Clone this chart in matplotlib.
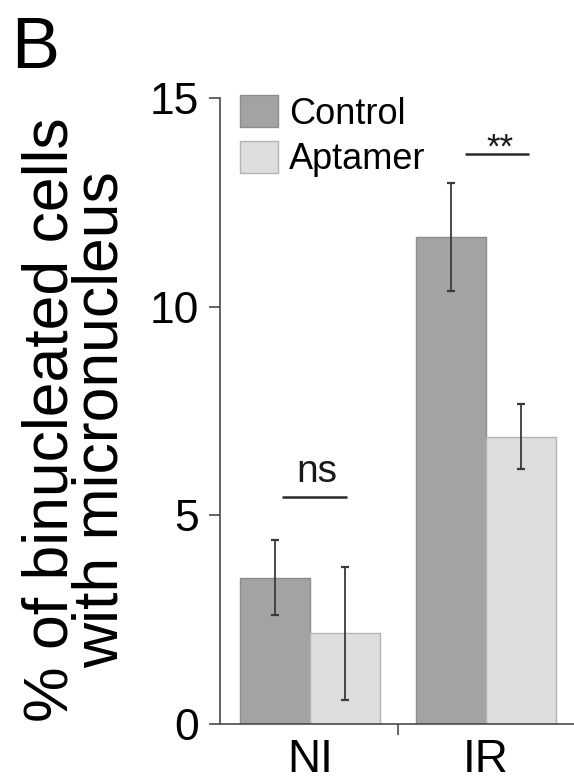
import matplotlib
matplotlib.use("Agg")
import matplotlib.pyplot as plt
from matplotlib.patches import Patch
import numpy as np

plt.rcParams['font.family'] = ['Liberation Sans', 'DejaVu Sans']

# ---- data ----
groups = ["NI", "IR"]
series = ["Control", "Aptamer"]
control_mean = [3.5, 11.68]
control_err_low = [2.6, 10.37]
control_err_high = [4.41, 12.97]
aptamer_mean = [2.18, 6.88]
aptamer_err_low = [0.58, 6.11]
aptamer_err_high = [3.76, 7.67]
sig_labels = ["ns", "**"]
yticks = [0, 5, 10, 15]
ylabel = "% of binucleated cells\nwith micronucleus"

# ---- style ----
W, H = 574, 784
fig = plt.figure(figsize=(W / 100, H / 100), dpi=100)

ax_left, ax_right = 220, 574
ax_bottom, ax_top = 724, 98
ax = fig.add_axes([ax_left / W, 1 - ax_bottom / H,
                   (ax_right - ax_left) / W, (ax_bottom - ax_top) / H])

x = np.arange(len(groups))
bw = 0.40
c_ctrl = "#a3a3a3"
c_apt = "#dcdddc"
e_ctrl = "#8c8c8c"
e_apt = "#b4b4b4"
err_col = "#3a3a3a"
axis_col = "#4a4a4a"

cm = np.array(control_mean)
am = np.array(aptamer_mean)
c_err = [cm - np.array(control_err_low), np.array(control_err_high) - cm]
a_err = [am - np.array(aptamer_err_low), np.array(aptamer_err_high) - am]

ax.bar(x - bw / 2, cm, bw, color=c_ctrl, edgecolor=e_ctrl, linewidth=1.0, zorder=2)
ax.bar(x + bw / 2, am, bw, color=c_apt, edgecolor=e_apt, linewidth=1.0, zorder=2)
ax.errorbar(x - bw / 2, cm, yerr=c_err, fmt="none", ecolor=err_col,
            elinewidth=1.3, capsize=3, capthick=1.6, zorder=3)
ax.errorbar(x + bw / 2, am, yerr=a_err, fmt="none", ecolor=err_col,
            elinewidth=1.3, capsize=3, capthick=1.6, zorder=3)

ax.set_xlim(-0.511, 1.5)
ax.set_ylim(0, 15)

for s in ["top", "right"]:
    ax.spines[s].set_visible(False)
for s in ["left", "bottom"]:
    ax.spines[s].set_color(axis_col)
    ax.spines[s].set_linewidth(1.2)

ax.set_yticks(yticks)
ax.set_yticklabels([str(v) for v in yticks], fontsize=32)
ax.tick_params(axis="y", direction="out", length=8, width=1.2, color=axis_col, pad=7)

ax.set_xticks(x)
ax.set_xticklabels(groups, fontsize=33)
ax.tick_params(axis="x", which="major", length=0, pad=10)
ax.set_xticks([0.5], minor=True)
ax.tick_params(axis="x", which="minor", direction="out", length=8, width=1.2, color=axis_col)

# significance
ax.plot([-0.16, 0.21], [5.44, 5.44], color="#2a2a2a", lw=1.8, solid_capstyle="butt")
ax.text(0.04, 5.80, sig_labels[0], ha="center", va="baseline", fontsize=28, color="#1a1a1a")
ax.plot([0.88, 1.244], [13.66, 13.66], color="#2a2a2a", lw=1.8, solid_capstyle="butt")
ax.text(1.08, 13.56, sig_labels[1], ha="center", va="baseline", fontsize=25, color="#1a1a1a")

# legend
handles = [Patch(facecolor=c_ctrl, edgecolor=e_ctrl, linewidth=1.0),
           Patch(facecolor=c_apt, edgecolor=e_apt, linewidth=1.0)]
fig.legend(handles, series, loc="upper left",
           bbox_to_anchor=(240 / W, 1 - 95 / H), frameon=False,
           fontsize=26, handlelength=1.05, handleheight=1.0,
           handletextpad=0.3, labelspacing=0.25, borderpad=0, borderaxespad=0)

# y label (two lines, one text)
fig.text(76 / W, 1 - 420 / H, ylabel, rotation=90,
         ha="center", va="center", multialignment="center",
         linespacing=0.8, fontsize=45)

# panel letter
fig.text(11 / W, 1 - 68 / H, "B", ha="left", va="baseline", fontsize=52)

fig.savefig("out.png", dpi=100)
